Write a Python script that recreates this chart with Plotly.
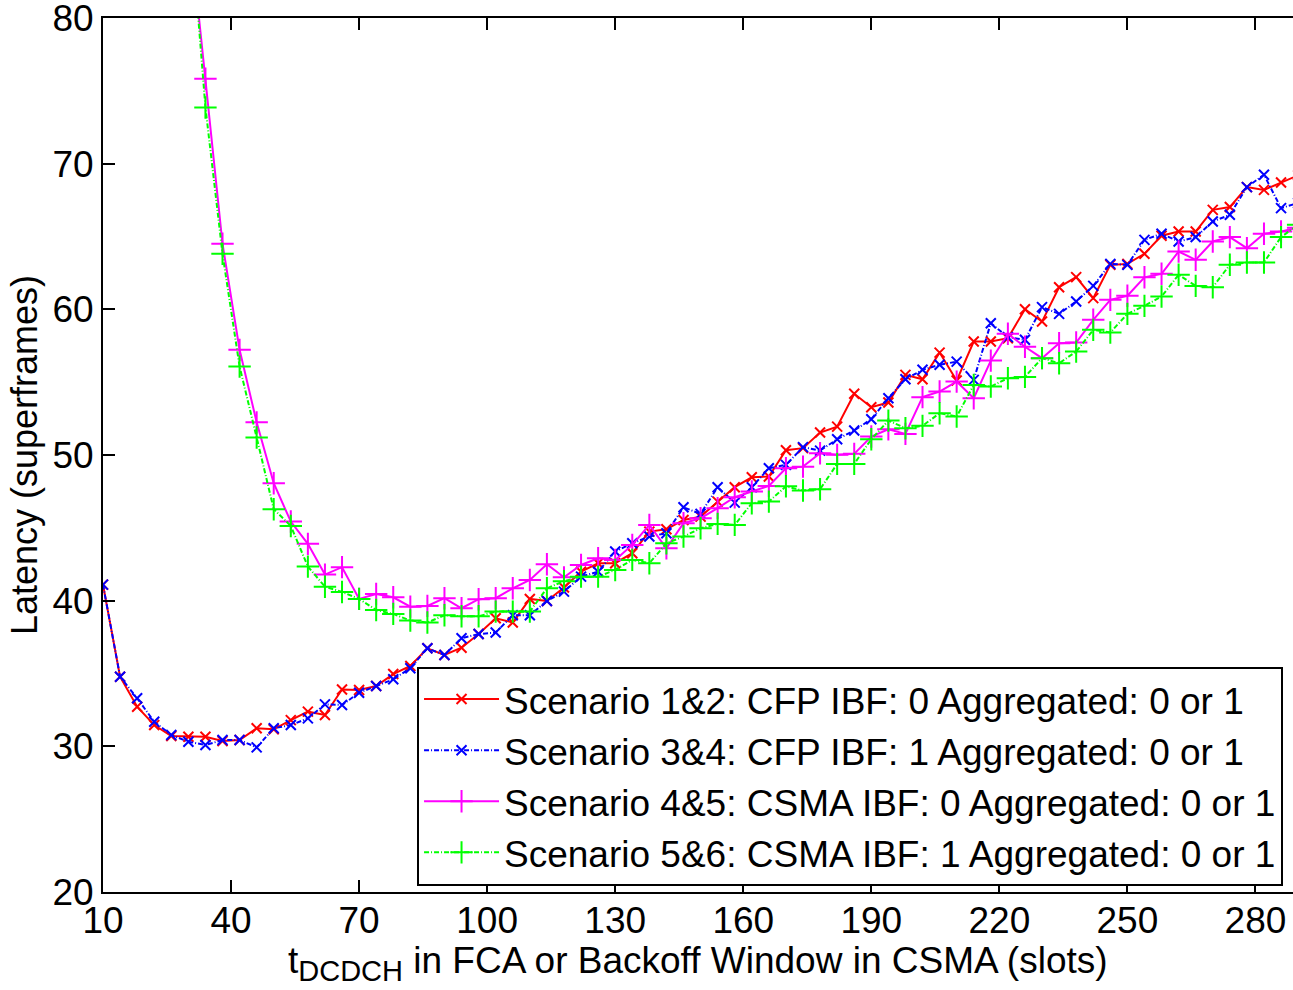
import plotly.graph_objects as go

# ---- data ----
x_all = [10, 14, 18, 22, 26, 30, 34, 38, 42, 46, 50, 54, 58, 62, 66, 70, 74, 78, 82, 86,
         90, 94, 98, 102, 106, 110, 114, 118, 122, 126, 130, 134, 138, 142, 146, 150,
         154, 158, 162, 166, 170, 174, 178, 182, 186, 190, 194, 198, 202, 206, 210, 214,
         218, 222, 226, 230, 234, 238, 242, 246, 250, 254, 258, 262, 266, 270, 274, 278,
         282, 286, 290]

x_csma = [30, 34, 38, 42, 46, 50, 54, 58, 62, 66, 70, 74, 78, 82, 86,
          90, 94, 98, 102, 106, 110, 114, 118, 122, 126, 130, 134, 138, 142, 146, 150,
          154, 158, 162, 166, 170, 174, 178, 182, 186, 190, 194, 198, 202, 206, 210, 214,
          218, 222, 226, 230, 234, 238, 242, 246, 250, 254, 258, 262, 266, 270, 274, 278,
          282, 286, 290]

s12 = [41.1, 34.78, 32.72, 31.46, 30.71, 30.66, 30.66, 30.36, 30.43, 31.24, 31.17, 31.8,
       32.38, 32.15, 33.9, 33.87, 34.14, 34.96, 35.52, 36.73, 36.27, 36.77, 37.71, 38.79,
       38.5, 40.12, 39.98, 40.9, 41.99, 42.57, 42.57, 43.26, 44.74, 44.9, 45.54, 45.77,
       46.8, 47.79, 48.47, 48.52, 50.33, 50.47, 51.54, 51.95, 54.2, 53.28, 53.6, 55.5,
       55.2, 57.03, 55.11, 57.79, 57.79, 58.02, 60.01, 59.16, 61.52, 62.21, 60.77, 63.05,
       63.12, 63.81, 65.05, 65.34, 65.34, 66.83, 67.02, 68.39, 68.2, 68.71, 69.2]

s34 = [41.1, 34.78, 33.3, 31.69, 30.78, 30.32, 30.09, 30.43, 30.43, 29.93, 31.24, 31.46,
       31.92, 32.88, 32.84, 33.68, 34.14, 34.6, 35.36, 36.73, 36.27, 37.42, 37.71, 37.81,
       39.0, 39.0, 39.98, 40.62, 41.65, 41.99, 43.37, 43.94, 44.4, 44.63, 46.41, 45.96,
       47.79, 46.73, 47.79, 49.09, 49.32, 50.54, 50.3, 51.08, 51.68, 52.46, 53.9, 55.2,
       55.85, 56.19, 56.41, 55.16, 59.05, 58.09, 57.91, 60.15, 59.69, 60.54, 61.61, 63.12,
       63.05, 64.77, 65.19, 64.66, 64.96, 66.03, 66.49, 68.39, 69.24, 66.95, 67.3]

s45 = [87.0, 75.83, 64.5, 57.22, 52.24, 48.06, 45.43, 43.9, 41.79, 42.3, 40.12, 40.46,
       40.23, 39.59, 39.64, 40.17, 39.48, 40.1, 40.17, 40.85, 41.42, 42.5, 41.6, 42.45,
       42.91, 42.8, 43.83, 45.2, 43.6, 45.32, 45.66, 46.35, 47.1, 47.49, 47.88, 49.09,
       49.2, 50.12, 50.01, 50.08, 51.27, 51.77, 51.45, 53.97, 54.36, 55.04, 53.9, 56.48,
       58.32, 57.43, 56.65, 57.68, 57.72, 59.28, 60.65, 60.93, 62.2, 62.44, 63.97, 63.4,
       64.66, 64.96, 64.2, 65.19, 65.34, 65.6]

s56 = [88.5, 73.86, 63.81, 56.07, 51.2, 46.28, 45.13, 42.34, 40.96, 40.6, 40.12, 39.36,
       39.09, 38.64, 38.5, 39.0, 38.93, 38.93, 39.25, 39.25, 39.25, 40.85, 41.34, 41.65,
       41.65, 42.11, 42.8, 42.57, 43.94, 44.4, 44.97, 45.27, 45.2, 46.69, 46.8, 47.85,
       47.56, 47.65, 49.39, 49.39, 51.08, 52.36, 51.84, 52.0, 52.87, 52.64, 54.81, 54.7,
       55.27, 55.36, 56.65, 56.3, 57.1, 58.59, 58.41, 59.69, 60.24, 60.88, 62.37, 61.61,
       61.52, 63.06, 63.22, 63.22, 64.96, 65.8]

names = ["Scenario 1&2: CFP IBF: 0 Aggregated: 0 or 1",
         "Scenario 3&4: CFP IBF: 1 Aggregated: 0 or 1",
         "Scenario 4&5: CSMA IBF: 0 Aggregated: 0 or 1",
         "Scenario 5&6: CSMA IBF: 1 Aggregated: 0 or 1"]

x_ticks = [10, 40, 70, 100, 130, 160, 190, 220, 250, 280]
y_ticks = [20, 30, 40, 50, 60, 70, 80]

x_title = ("t<sub><span style='font-size:29px'>DCDCH</span></sub>"
           " in FCA or Backoff Window in CSMA (slots)")
y_title = "Latency (superframes)"

FONT = "Liberation Sans, Arial, Helvetica, sans-serif"
FS = 37
DASHDOT = "5px,2px,1px,2px"

fig = go.Figure()
fig.add_trace(go.Scatter(
    x=x_all, y=s12, name=names[0], mode="lines+markers",
    line=dict(color="#FF0000", width=2),
    marker=dict(symbol="x-thin", size=10, line=dict(width=2, color="#FF0000"))))
fig.add_trace(go.Scatter(
    x=x_all, y=s34, name=names[1], mode="lines+markers",
    line=dict(color="#0000FF", width=2, dash=DASHDOT),
    marker=dict(symbol="x-thin", size=10, line=dict(width=2, color="#0000FF"))))
fig.add_trace(go.Scatter(
    x=x_csma, y=s45, name=names[2], mode="lines+markers",
    line=dict(color="#FF00FF", width=2),
    marker=dict(symbol="cross-thin", size=16, line=dict(width=2, color="#FF00FF"))))
fig.add_trace(go.Scatter(
    x=x_csma, y=s56, name=names[3], mode="lines+markers",
    line=dict(color="#00FF00", width=2, dash=DASHDOT),
    marker=dict(symbol="cross-thin", size=16, line=dict(width=2, color="#00FF00"))))
# empty trace so that the top (mirror) x axis gets its own subplot
fig.add_trace(go.Scatter(x=[], y=[], xaxis="x2", yaxis="y", showlegend=False,
                         hoverinfo="skip"))

axis_common = dict(
    showline=True, linecolor="black", linewidth=2, mirror=False,
    ticks="inside", ticklen=12, tickwidth=1.5, tickcolor="black",
    showgrid=False, zeroline=False, ticklabeloverflow="allow",
    tickfont=dict(family=FONT, size=FS, color="black"),
)

fig.update_layout(
    template="none",
    width=1293, height=990,
    margin=dict(l=103, r=0, t=18, b=98),
    paper_bgcolor="white", plot_bgcolor="white",
    font=dict(family=FONT, size=FS, color="black"),
    xaxis=dict(range=[10, 288.8], tickvals=x_ticks, ticklabelstandoff=-5,
               **axis_common),
    xaxis2=dict(range=[10, 288.8], tickvals=x_ticks, overlaying="x", side="top",
                anchor="y", showticklabels=False,
                **{k: v for k, v in axis_common.items() if k != "tickfont"}),
    yaxis=dict(range=[20, 80], tickvals=y_ticks,
               title=dict(text=y_title,
                          font=dict(family=FONT, size=36, color="black"), standoff=4),
               **axis_common),
    showlegend=True,
    legend=dict(x=0.2639, y=0.1327, xanchor="left", yanchor="middle",
                bordercolor="black", borderwidth=2, bgcolor="white",
                font=dict(family=FONT, size=FS, color="black"),
                itemwidth=75, tracegroupgap=0),
    annotations=[dict(text=x_title, xref="paper", yref="paper", x=0.5, y=0,
                      xanchor="center", yanchor="top", yshift=-46, showarrow=False,
                      font=dict(family=FONT, size=FS, color="black"))],
)

fig.write_html("out.html")
